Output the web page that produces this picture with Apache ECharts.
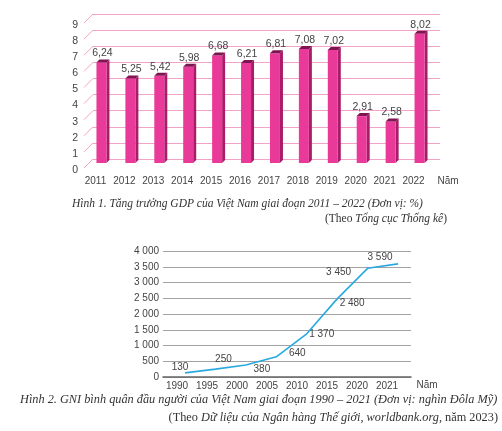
<!DOCTYPE html>
<html><head><meta charset="utf-8">
<script src="https://cdn.jsdelivr.net/npm/echarts@6/dist/echarts.min.js"></script>
<style>html,body{margin:0;padding:0;background:#fff}#c{width:502px;height:431px}</style>
</head><body><div id="c"></div>
<script>
var gdpYears = ['2011','2012','2013','2014','2015','2016','2017','2018','2019','2020','2021','2022'];
var gdpValues = [6.24, 5.25, 5.42, 5.98, 6.68, 6.21, 6.81, 7.08, 7.02, 2.91, 2.58, 8.02];
var gdpTicks = [0,1,2,3,4,5,6,7,8,9];
var gniYears = ['1990','1995','2000','2005','2010','2015','2020','2021'];
var gniValues = [130, 250, 380, 640, 1370, 2480, 3450, 3590];
var gniLabelOffsets = [[-5,5],[8,1],[16,15],[21,7],[15,11],[15,15],[-29,15],[-18,4]];

function fmtComma(v){ return v.toFixed(2).replace('.', ','); }
function fmtSpace(v){ return String(v).replace(/\B(?=(\d{3})+(?!\d))/g, ' '); }

var SANS = '"Liberation Sans", Arial, sans-serif';
var SERIF = '"Liberation Serif", "Times New Roman", serif';

var chart = echarts.init(document.getElementById('c'), null, {renderer:'canvas'});
var option = {
  animation: false,
  backgroundColor: '#ffffff',
  textStyle: { fontFamily: SANS },
  grid: [
    { left: 93, width: 347, top: 14, height: 145 },
    { left: 163, width: 248, top: 251, height: 126 },
    { left: 162, width: 240, top: 251, height: 126 },
    { left: 185, width: 213, top: 251, height: 126 }
  ],
  xAxis: [
    { type:'category', gridIndex:0, data: gdpYears, boundaryGap:true,
      axisLine:{show:false}, axisTick:{show:false},
      axisLabel:{ interval:0, margin:17, padding:[0,24,0,0], fontSize:10, color:'#444', fontFamily:SANS } },
    { type:'value', gridIndex:1, min:0, max:1, splitLine:{show:false}, axisTick:{show:false},
      axisLabel:{show:false}, axisLine:{show:true, onZero:false, lineStyle:{color:'#666', width:1.5}} },
    { type:'category', gridIndex:2, data: gniYears, boundaryGap:true,
      axisLine:{show:false}, axisTick:{show:false},
      axisLabel:{ interval:0, margin:4, fontSize:10, color:'#444', fontFamily:SANS } },
    { type:'category', gridIndex:3, data: gniYears, boundaryGap:false, show:false }
  ],
  yAxis: [
    { type:'value', gridIndex:0, min:0, max:9, interval:1,
      axisLine:{show:false}, axisTick:{show:false}, axisLabel:{show:false},
      splitLine:{ lineStyle:{ color:'#f3a3c8', width:1 } } },
    { type:'value', gridIndex:1, min:0, max:4000, interval:500,
      axisLine:{show:false}, axisTick:{show:false},
      splitLine:{ lineStyle:{ color:'#a3a3a3', width:1 } },
      axisLabel:{ margin:4, fontSize:10, color:'#444', fontFamily:SANS, formatter: fmtSpace } },
    { type:'value', gridIndex:2, min:0, max:4000, show:false },
    { type:'value', gridIndex:3, min:0, max:4000, show:false }
  ],
  series: [
    { type:'custom', name:'wall', xAxisIndex:0, yAxisIndex:0, silent:true,
      data: gdpTicks.map(function(t){ return [0, t]; }),
      renderItem: function(params, api){
        var v = api.value(1);
        var p = api.coord([0, v]);
        var x0 = params.coordSys.x;
        return { type:'group', children:[
          { type:'line', shape:{ x1:x0-9, y1:p[1]+9, x2:x0, y2:p[1] },
            style:{ stroke:'#f3a3c8', lineWidth:1 } },
          { type:'text', style:{ text:String(v), x:x0-15, y:p[1]+11, align:'right', verticalAlign:'middle',
              font:'10.5px ' + SANS, fill:'#444' } }
        ]};
      }
    },
    { type:'custom', name:'GDP', xAxisIndex:0, yAxisIndex:0,
      data: gdpValues.map(function(v, i){ return [i, v]; }),
      renderItem: function(params, api){
        var i = api.value(0), v = api.value(1);
        var t = api.coord([i, v]), b = api.coord([i, 0]);
        var cx = t[0], fy0 = t[1] + 4, fy1 = b[1] + 4;
        var l = cx - 11, r = cx - 1, d = 3;
        return { type:'group', children:[
          { type:'polygon', shape:{ points:[[r,fy0],[r+d,fy0-d],[r+d,fy1-d],[r,fy1]] }, style:{ fill:'#a81d68' } },
          { type:'rect', shape:{ x:l, y:fy0, width:r-l, height:fy1-fy0 }, style:{ fill:'#e93a9a' } },
          { type:'polygon', shape:{ points:[[l,fy0],[l+d,fy0-d],[r+d,fy0-d],[r,fy0]] }, style:{ fill:'#7e1550' } },
          { type:'text', style:{ text: fmtComma(v), x:(l+r)/2+1, y:fy0-9, align:'center', verticalAlign:'middle',
              font:'10.5px ' + SANS, fill:'#444' } }
        ]};
      }
    },
    { type:'line', name:'GNI', xAxisIndex:3, yAxisIndex:3, symbol:'none',
      lineStyle:{ color:'#29a9e1', width:1.6 }, itemStyle:{ color:'#29a9e1' },
      data: gniValues
    },
    { type:'custom', name:'GNI labels', xAxisIndex:3, yAxisIndex:3, silent:true,
      data: gniValues.map(function(v, i){ return [i, v]; }),
      renderItem: function(params, api){
        var i = api.value(0), v = api.value(1);
        var p = api.coord([i, v]);
        var o = gniLabelOffsets[i];
        return { type:'text', style:{ text: fmtSpace(v), x:p[0]+o[0], y:p[1]-11+o[1], align:'center', verticalAlign:'middle',
            font:'10px ' + SANS, fill:'#444' } };
      }
    }
  ],
  graphic: [
    { type:'text', x:448, y:181, style:{ text:'Năm', align:'center', verticalAlign:'middle', font:'10px ' + SANS, fill:'#444' } },
    { type:'text', x:427, y:385, style:{ text:'Năm', align:'center', verticalAlign:'middle', font:'10px ' + SANS, fill:'#444' } },
    { type:'text', x:72, y:204, style:{ text:'Hình 1. Tăng trưởng GDP của Việt Nam giai đoạn 2011 – 2022 (Đơn vị: %)',
        align:'left', verticalAlign:'middle', font:'italic 11.5px ' + SERIF, fill:'#333' } },
    { type:'text', x:447, y:219, style:{ text:'{n|(Theo }{i|Tổng cục Thống kê}{n|)}', align:'right', verticalAlign:'middle',
        rich:{ n:{ font:'11.5px ' + SERIF, fill:'#333' }, i:{ font:'italic 11.5px ' + SERIF, fill:'#333' } } } },
    { type:'text', x:20, y:400, style:{ text:'Hình 2. GNI bình quân đầu người của Việt Nam giai đoạn 1990 – 2021 (Đơn vị: nghìn Đôla Mỹ)',
        align:'left', verticalAlign:'middle', font:'italic 12.3px ' + SERIF, fill:'#333' } },
    { type:'text', x:498, y:418, style:{ text:'{n|(Theo }{i|Dữ liệu của Ngân hàng Thế giới, worldbank.org}{n|, năm 2023)}', align:'right', verticalAlign:'middle',
        rich:{ n:{ font:'12.3px ' + SERIF, fill:'#333' }, i:{ font:'italic 12.3px ' + SERIF, fill:'#333' } } } }
  ]
};
chart.setOption(option);
</script>
</body></html>
